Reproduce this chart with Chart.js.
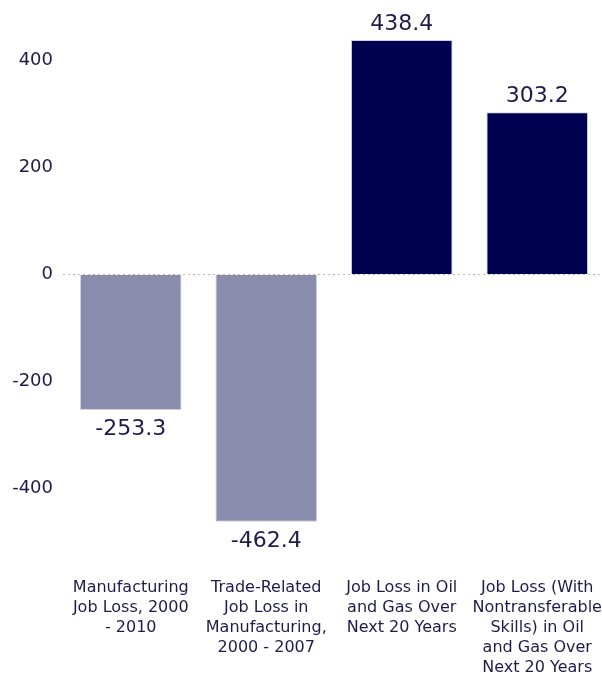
<!DOCTYPE html>
<html>
<head>
<meta charset="utf-8">
<script src="https://cdn.jsdelivr.net/npm/chart.js@4"></script>
<style>
  html, body { margin: 0; padding: 0; background: #fff; overflow: hidden; }
  #wrap { position: relative; width: 605px; height: 675px; }
</style>
</head>
<body>
<div id="wrap"><canvas id="jobChart"></canvas></div>
<script>
const categories = [
  ["Manufacturing", "Job Loss, 2000", "- 2010"],
  ["Trade-Related", "Job Loss in", "Manufacturing,", "2000 - 2007"],
  ["Job Loss in Oil", "and Gas Over", "Next 20 Years"],
  ["Job Loss (With", "Nontransferable", "Skills) in Oil", "and Gas Over", "Next 20 Years"]
];
const jobLoss = [-253.3, -462.4, 438.4, 303.2];
const yTicks = [-400, -200, 0, 200, 400];

const textColor = "#1c1c4c";
const negColor = "#8a8cad";
const posColor = "#000050";

// value labels above / below each bar
const valueLabels = {
  id: "valueLabels",
  afterDatasetsDraw(chart) {
    const ctx = chart.ctx;
    const meta = chart.getDatasetMeta(0);
    ctx.save();
    ctx.font = "22px 'DejaVu Sans'";
    ctx.fillStyle = textColor;
    ctx.textAlign = "center";
    ctx.textBaseline = "alphabetic";
    meta.data.forEach(function (bar, i) {
      const v = jobLoss[i];
      const y = v >= 0 ? bar.y - 10 : bar.y + 25;
      ctx.fillText(v.toFixed(1), bar.x, y);
    });
    ctx.restore();
  }
};

const ctx = document.getElementById("jobChart").getContext("2d");
new Chart(ctx, {
  type: "bar",
  data: {
    labels: categories,
    datasets: [{
      data: jobLoss,
      backgroundColor: jobLoss.map(v => v < 0 ? negColor : posColor),
      borderColor: "rgba(190,190,215,0.7)",
      borderWidth: 1,
      barPercentage: 0.75,
      categoryPercentage: 1.0
    }]
  },
  options: {
    responsive: true,
    maintainAspectRatio: false,
    animation: false,
    layout: { padding: { top: 7, left: 0, right: 0, bottom: 0 } },
    plugins: {
      legend: { display: false },
      tooltip: { enabled: false }
    },
    scales: {
      x: {
        grid: { display: false, drawTicks: false },
        border: { display: false },
        ticks: {
          color: textColor,
          font: { family: "DejaVu Sans", size: 16, lineHeight: 1.25 },
          padding: 18,
          maxRotation: 0,
          autoSkip: false
        },
        afterFit(scale) {
          scale.height = 115;
          scale.paddingLeft = 0;
          scale.paddingRight = 0;
        }
      },
      y: {
        min: -534,
        max: 500,
        afterBuildTicks(scale) {
          scale.ticks = yTicks.map(v => ({ value: v }));
        },
        grid: {
          drawTicks: false,
          color: c => (c.tick && c.tick.value === 0) ? "#b8b8b8" : "transparent",
          lineWidth: 1
        },
        border: { display: false, dash: [2, 3] },
        ticks: {
          color: textColor,
          font: { family: "DejaVu Sans", size: 18 },
          padding: 10
        },
        afterFit(scale) {
          scale.width = 63;
          scale.paddingTop = 0;
          scale.paddingBottom = 0;
        }
      }
    }
  },
  plugins: [valueLabels]
});
</script>
</body>
</html>
